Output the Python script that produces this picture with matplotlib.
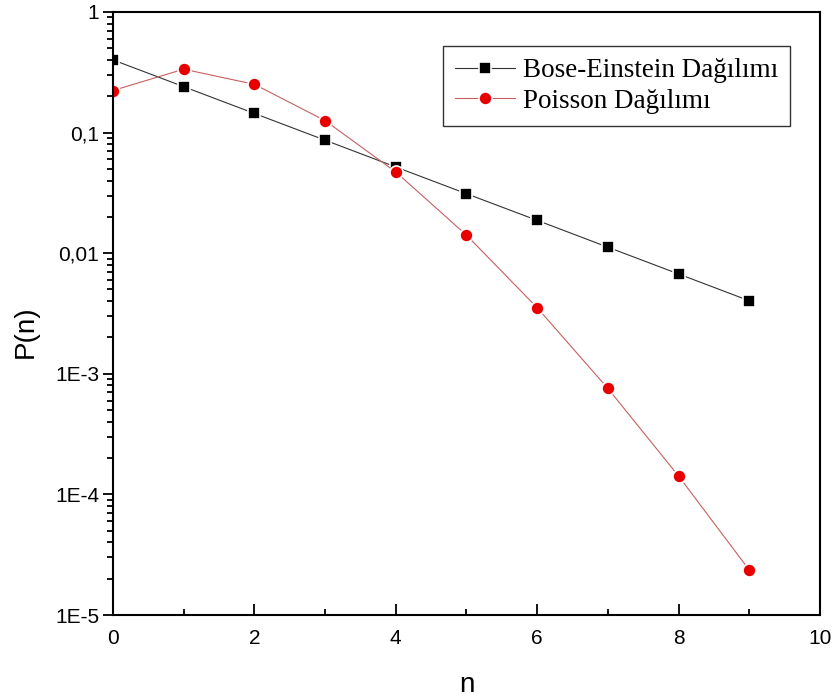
import matplotlib.pyplot as plt
from matplotlib.ticker import FixedLocator, LogLocator, FuncFormatter, MultipleLocator

# Values
n = [0, 1, 2, 3, 4, 5, 6, 7, 8, 9]
bose = [0.4, 0.24, 0.144, 0.0864, 0.0518, 0.0311, 0.0187, 0.0112, 0.00672, 0.00403]
poisson = [0.223, 0.335, 0.251, 0.1255, 0.0471, 0.0141, 0.00353, 0.000756, 0.000142, 0.0000236]

ytick_vals = [1e-5, 1e-4, 1e-3, 1e-2, 1e-1, 1]
ytick_labels = ['1E-5', '1E-4', '1E-3', '0,01', '0,1', '1']

fig = plt.figure(figsize=(8.35, 7), dpi=100)
ax = fig.add_axes([0.1353, 0.1214, 0.8467, 0.8616])

ax.plot(n, bose, color='#333333', lw=0.8, marker='s', ms=8, mfc='black',
        mec='white', mew=1.2, label='Bose-Einstein Dağılımı')
ax.plot(n, poisson, color='#c86060', lw=0.8, marker='o', ms=9.4, mfc='#e80000',
        mec='white', mew=1.2, label='Poisson Dağılımı')

ax.set_yscale('log')
ax.set_xlim(0, 10)
ax.set_ylim(1e-5, 1)

ax.yaxis.set_major_locator(FixedLocator(ytick_vals))
ax.yaxis.set_major_formatter(FuncFormatter(
    lambda v, p: ytick_labels[ytick_vals.index(min(ytick_vals, key=lambda t: abs(t - v)))]))
ax.yaxis.set_minor_locator(LogLocator(base=10, subs=range(2, 10), numticks=20))
ax.xaxis.set_major_locator(MultipleLocator(2))
ax.xaxis.set_minor_locator(MultipleLocator(1))

for s in ax.spines.values():
    s.set_linewidth(1.5)

ax.tick_params(axis='x', which='major', direction='in', length=8, width=1.3,
               pad=10, labelsize=15)
ax.tick_params(axis='x', which='minor', direction='in', length=4.5, width=1.3)
ax.tick_params(axis='y', which='major', direction='out', length=7, width=1.3,
               pad=3, labelsize=15)
ax.tick_params(axis='y', which='minor', direction='out', length=4, width=1.3)
for lab in ax.get_xticklabels() + ax.get_yticklabels():
    lab.set_fontfamily('Liberation Sans')

ax.set_xlabel('n', fontsize=20, family='Liberation Sans', labelpad=17)
ax.set_ylabel('P(n)', fontsize=20, family='Liberation Sans', labelpad=12)
ax.yaxis.label.set_y(0.47)

leg = ax.legend(loc='upper left', bbox_to_anchor=(443 / 835, 1 - 46 / 700),
                bbox_transform=fig.transFigure, borderaxespad=0,
                prop={'family': 'Liberation Serif', 'size': 19.5},
                fancybox=False, framealpha=1, edgecolor='#333333',
                handlelength=2.2, labelspacing=0.2, borderpad=0.45,
                handletextpad=0.3)
leg.get_frame().set_linewidth(1.0)

fig.savefig('out.png', dpi=100)
